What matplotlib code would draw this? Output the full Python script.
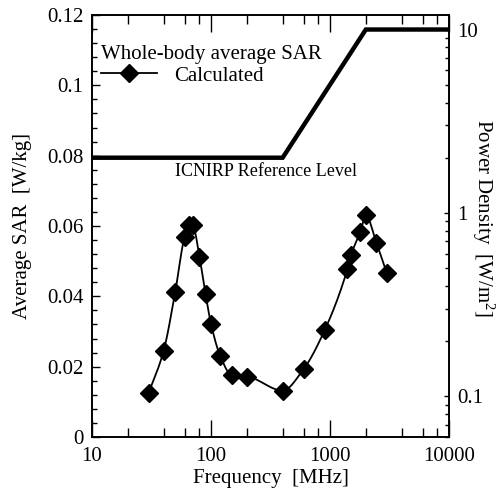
import numpy as np
import matplotlib
matplotlib.use("Agg")
import matplotlib.pyplot as plt
from matplotlib.ticker import FixedLocator, FixedFormatter, NullFormatter, LogLocator

plt.rcParams["font.family"] = ["Liberation Serif", "DejaVu Serif"]
plt.rcParams["mathtext.fontset"] = "custom"
plt.rcParams["mathtext.rm"] = "Liberation Serif"

# 计算值 (whole-body average SAR)
freq = [30, 40, 50, 60, 65, 70, 80, 90, 100, 120, 150, 200,
        400, 600, 900, 1400, 1500, 1800, 2000, 2450, 3000]
sar = [0.0126, 0.0245, 0.0412, 0.0570, 0.0603, 0.0603, 0.0512, 0.0406,
       0.0322, 0.0229, 0.0175, 0.0172, 0.0132, 0.0193, 0.0303, 0.0477,
       0.0517, 0.0584, 0.0630, 0.0553, 0.0466]

# ICNIRP 参考水平 (功率密度)
icnirp_f = [10, 400, 2000, 10000]
icnirp_pd = [2, 2, 10, 10]

xticks = [10, 100, 1000, 10000]
xticklabels = ["10", "100", "1000", "10000"]
yticks = [0, 0.02, 0.04, 0.06, 0.08, 0.1, 0.12]
yticklabels = ["0", "0.02", "0.04", "0.06", "0.08", "0.1", "0.12"]
y2ticks = [0.1, 1, 10]
y2ticklabels = ["0.1", "1", "10"]


def pchip(x, y, n=25):
    # 平滑曲线 (log f 上的单调三次插值), 只用于画线
    x = np.asarray(x, float); y = np.asarray(y, float)
    h = np.diff(x); d = np.diff(y) / h
    m = np.zeros_like(y)
    for k in range(1, len(x) - 1):
        if d[k-1] * d[k] > 0:
            w1 = 2*h[k] + h[k-1]; w2 = h[k] + 2*h[k-1]
            m[k] = (w1 + w2) / (w1/d[k-1] + w2/d[k])
    m[0] = d[0]; m[-1] = d[-1]
    xs, ys = [], []
    for k in range(len(x) - 1):
        t = np.linspace(0, 1, n, endpoint=False)
        h00 = 2*t**3 - 3*t**2 + 1; h10 = t**3 - 2*t**2 + t
        h01 = -2*t**3 + 3*t**2; h11 = t**3 - t**2
        xs.append(x[k] + t*h[k])
        ys.append(h00*y[k] + h10*h[k]*m[k] + h01*y[k+1] + h11*h[k]*m[k+1])
    xs.append([x[-1]]); ys.append([y[-1]])
    return np.concatenate(xs), np.concatenate(ys)


FS = 15
fig = plt.figure(figsize=(4.96, 4.88), dpi=100)
ax = fig.add_axes([92/496, 51/488, 357/496, 422/488])
ax2 = ax.twinx()

lx, ly = pchip(np.log10(freq), sar)
ax.plot(10**lx, ly, color="black", lw=1.3)
ax.plot(freq, sar, ls="none", marker="D", ms=9, color="black")
# 图例用的句柄
hdl, = ax.plot([], [], color="black", lw=1.3, marker="D", ms=9)

ax2.plot(icnirp_f, icnirp_pd, color="black", lw=3.2, solid_joinstyle="miter")

ax.set_xscale("log")
ax.set_xlim(10, 10000)
ax.set_ylim(0, 0.12)
ax2.set_yscale("log")
ax2.set_ylim(0.06, 12)

ax.xaxis.set_major_locator(FixedLocator(xticks))
ax.xaxis.set_major_formatter(FixedFormatter(xticklabels))
ax.xaxis.set_minor_locator(LogLocator(base=10, subs=[2, 4, 6, 8]))
ax.xaxis.set_minor_formatter(NullFormatter())
ax.yaxis.set_major_locator(FixedLocator(yticks))
ax.yaxis.set_major_formatter(FixedFormatter(yticklabels))
ax.yaxis.set_minor_locator(FixedLocator(np.arange(0, 0.1201, 0.004)))
ax2.yaxis.set_major_locator(FixedLocator(y2ticks))
ax2.yaxis.set_major_formatter(FixedFormatter(y2ticklabels))
ax2.yaxis.set_minor_locator(LogLocator(base=10, subs=np.arange(2, 10)))
ax2.yaxis.set_minor_formatter(NullFormatter())

ax.tick_params(axis="x", which="both", direction="in", top=True, labelsize=FS, pad=7)
ax.tick_params(axis="x", which="major", length=12, width=1)
ax.tick_params(axis="x", which="minor", length=6.5, width=1)
ax.tick_params(axis="y", which="both", direction="in", right=False, labelsize=FS, pad=6)
ax.tick_params(axis="y", which="major", length=6, width=1)
ax.tick_params(axis="y", which="minor", length=3.3, width=1)
ax2.tick_params(axis="y", which="both", direction="in", labelsize=FS, pad=6)
ax2.tick_params(axis="y", which="major", length=3.6, width=1)
ax2.tick_params(axis="y", which="minor", length=2.9, width=1)
for a in (ax, ax2):
    for s in a.spines.values():
        s.set_linewidth(1.2)

ax.set_xlabel("Frequency  [MHz]", fontsize=FS, labelpad=2)
ax.set_ylabel("Average SAR  [W/kg]", fontsize=FS, labelpad=11)
ax2.set_ylabel(r"Power Density  [W/m$\mathregular{^2}$]", fontsize=FS,
               rotation=270, ha="center", va="center")
ax2.yaxis.set_label_coords((483.5 - 92) / 357, 0.52)

ax.text(50, 0.0754, "ICNIRP Reference Level", fontsize=13, va="center", ha="left")

leg = ax.legend([hdl], ["Calculated"], title="Whole-body average SAR",
                loc="upper left", bbox_to_anchor=(9/357, 1 - 30/422),
                frameon=False, fontsize=FS, title_fontsize=FS, numpoints=1,
                handlelength=2.7, handletextpad=0.8, borderpad=0,
                labelspacing=0.1, borderaxespad=0, alignment="left")

fig.savefig("out.png", dpi=100)
